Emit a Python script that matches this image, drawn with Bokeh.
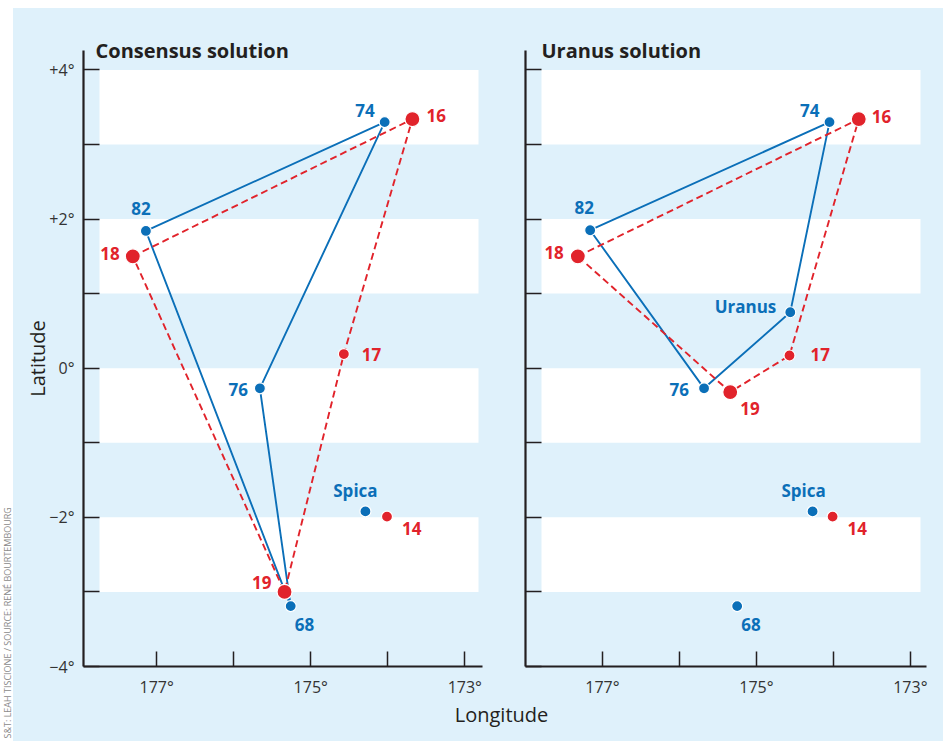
from math import pi
from bokeh.plotting import figure
from bokeh.models import Range1d, FixedTicker, Label, BoxAnnotation, ColumnDataSource
from bokeh.layouts import row, column
from bokeh.embed import file_html
from bokeh.resources import INLINE
from bokeh.core.properties import value

# ---------------- data ----------------
lon_ticks = [177, 176, 175, 174, 173]
lon_tick_labels = {177: "177\u00b0", 176: "", 175: "175\u00b0", 174: "", 173: "173\u00b0"}
lat_ticks = [-4, -3, -2, -1, 0, 1, 2, 3, 4]
lat_tick_labels = {4: "+4\u00b0", 3: "", 2: "+2\u00b0", 1: "", 0: "0\u00b0", -1: "",
                   -2: "\u22122\u00b0", -3: "", -4: "\u22124\u00b0"}
white_band_bottoms = [3, 1, -1, -3]

panel_titles = ["Consensus solution", "Uranus solution"]
x_axis_title = "Longitude"
y_axis_title = "Latitude"
credit_text = "S&T: LEAH TISCIONE / SOURCE: REN\u00c9 BOURTEMBOURG"

consensus_blue_names = ["74", "82", "76", "68", "Spica"]
consensus_blue_lon = [174.04, 177.14, 175.66, 175.26, 174.29]
consensus_blue_lat = [3.30, 1.84, -0.27, -3.19, -1.92]
consensus_blue_path = ["82", "74", "76", "68", "82"]

consensus_red_names = ["16", "18", "17", "19", "14"]
consensus_red_lon = [173.68, 177.31, 174.57, 175.34, 174.01]
consensus_red_lat = [3.34, 1.50, 0.19, -3.00, -1.99]
consensus_red_path = ["18", "16", "17", "19", "18"]

uranus_blue_names = ["74", "82", "Uranus", "76", "68", "Spica"]
uranus_blue_lon = [174.05, 177.16, 174.56, 175.68, 175.25, 174.27]
uranus_blue_lat = [3.30, 1.85, 0.75, -0.27, -3.19, -1.92]
uranus_blue_path = ["82", "74", "Uranus", "76", "82"]

uranus_red_names = ["16", "18", "17", "19", "14"]
uranus_red_lon = [173.67, 177.32, 174.57, 175.34, 174.01]
uranus_red_lat = [3.34, 1.50, 0.17, -0.32, -1.99]
uranus_red_path = ["18", "16", "17", "19", "18"]

big_red_names = ["16", "18", "19"]

# ---------------- styles ----------------
BG = "#dff1fb"
BLUE = "#0b6fb8"
RED = "#e1232b"
INK = "#231f20"
FONT = "Open Sans"

consensus_label_pos = {
    "74": ("right", -10, -12), "16": ("left", 14, -4), "82": ("center", -5, -22),
    "18": ("right", -13, -3), "17": ("left", 18, 0), "76": ("right", -12, 1),
    "68": ("left", 4, 18), "19": ("right", -13, -9), "Spica": ("center", -10, -21),
    "14": ("left", 15, 12),
}
uranus_label_pos = {
    "74": ("right", -10, -12), "16": ("left", 13, -3), "82": ("center", -6, -23),
    "18": ("right", -14, -4), "17": ("left", 21, -1), "Uranus": ("right", -14, -6),
    "76": ("right", -15, 1), "19": ("left", 10, 16), "68": ("left", 4, 18),
    "Spica": ("center", -9, -21), "14": ("left", 15, 12),
}


def path_coords(names, lon, lat, path):
    idx = [names.index(n) for n in path]
    return [lon[i] for i in idx], [lat[i] for i in idx]


def make_panel(title, title_dx, blue, red, label_pos, x_start, x_end, width,
               mb_left, mb_right, band_left, band_right, show_y_labels):
    p = figure(width=width, height=692, output_backend="svg", toolbar_location=None,
               x_range=Range1d(x_start, x_end), y_range=Range1d(-4, 4.26),
               min_border_left=mb_left, min_border_right=mb_right,
               min_border_top=42, min_border_bottom=30)
    p.background_fill_color = BG
    p.border_fill_color = BG
    p.outline_line_color = None
    p.grid.visible = False

    # panel title (overlapping top of frame, as in the original)
    p.title.text = title
    p.title.align = "left"
    p.title.offset = title_dx
    p.title.standoff = -26
    p.title.text_font = FONT
    p.title.text_font_style = "bold"
    p.title.text_font_size = "20px"
    p.title.text_color = INK

    frame_w = width - mb_left - mb_right
    for b in white_band_bottoms:
        p.add_layout(BoxAnnotation(bottom=b, top=b + 1, left=band_left,
                                   right=frame_w - band_right,
                                   left_units="screen", right_units="screen",
                                   fill_color="white", fill_alpha=1.0,
                                   line_color=None, level="underlay"))

    bn, blon, blat, bpath = blue
    rn, rlon, rlat, rpath = red

    # connecting lines
    bx, by = path_coords(bn, blon, blat, bpath)
    p.line(bx, by, line_color=BLUE, line_width=1.9)
    rx, ry = path_coords(rn, rlon, rlat, rpath)
    p.line(rx, ry, line_color=RED, line_width=1.9, line_dash="7 4")

    # points
    p.scatter(blon, blat, size=11, fill_color=BLUE, line_color="white", line_width=1.2)
    rsizes = [15 if n in big_red_names else 11 for n in rn]
    p.scatter(rlon, rlat, size=rsizes, fill_color=RED, line_color="white", line_width=1.2)

    # point labels
    for names, lon, lat, col in ((bn, blon, blat, BLUE), (rn, rlon, rlat, RED)):
        src = ColumnDataSource(dict(
            x=lon, y=lat, t=names,
            a=[label_pos[n][0] for n in names],
            dx=[label_pos[n][1] for n in names],
            dy=[label_pos[n][2] for n in names]))
        p.text(x="x", y="y", text="t", source=src, text_align="a",
               x_offset="dx", y_offset="dy", text_baseline="middle",
               text_color=col, text_font=value(FONT), text_font_style="bold",
               text_font_size="17px")

    # axes
    for ax in (p.xaxis[0], p.yaxis[0]):
        ax.axis_line_color = INK
        ax.axis_line_width = 2.2
        ax.major_tick_line_color = INK
        ax.major_tick_line_width = 1.5
        ax.major_tick_out = 0
        ax.major_tick_in = 15
        ax.minor_tick_line_color = None
        ax.major_label_text_font = FONT
        ax.major_label_text_font_size = "16px"
        ax.major_label_text_color = "#333333"
        ax.major_label_standoff = 9
    p.xaxis.ticker = FixedTicker(ticks=lon_ticks)
    p.xaxis.major_label_overrides = lon_tick_labels
    p.yaxis.ticker = FixedTicker(ticks=lat_ticks)
    p.yaxis.major_tick_in = 16
    if show_y_labels:
        p.yaxis.major_label_overrides = lat_tick_labels
        p.yaxis.axis_label = y_axis_title
        p.yaxis.axis_label_text_font = FONT
        p.yaxis.axis_label_text_font_style = "normal"
        p.yaxis.axis_label_text_font_size = "20px"
        p.yaxis.axis_label_text_color = INK
        p.yaxis.axis_label_standoff = -5
    else:
        p.yaxis.major_label_overrides = {t: "" for t in lat_ticks}
    return p


CREDIT_W = 13
left = make_panel(panel_titles[0], 12,
                  (consensus_blue_names, consensus_blue_lon, consensus_blue_lat, consensus_blue_path),
                  (consensus_red_names, consensus_red_lon, consensus_red_lat, consensus_red_path),
                  consensus_label_pos, 177.95, 172.77, 500 - CREDIT_W, 83 - CREDIT_W, 18, 16, 4, True)
right = make_panel(panel_titles[1], 16,
                   (uranus_blue_names, uranus_blue_lon, uranus_blue_lat, uranus_blue_path),
                   (uranus_red_names, uranus_red_lon, uranus_red_lat, uranus_red_path),
                   uranus_label_pos, 178.0, 172.79, 443, 25, 17, 16, 6, False)

strip_w = 943 - CREDIT_W
strip = figure(width=strip_w, height=41, output_backend="svg", toolbar_location=None,
               x_range=Range1d(0, strip_w), y_range=Range1d(0, 41),
               x_axis_location=None, y_axis_location=None, min_border=0)
strip.background_fill_color = BG
strip.border_fill_color = BG
strip.outline_line_color = None
strip.grid.visible = False
strip.add_layout(Label(x=501 - CREDIT_W, y=27, x_units="screen", y_units="screen",
                       text=x_axis_title, text_font=FONT, text_font_size="20px",
                       text_color=INK, text_align="center", text_baseline="middle"))

credit = figure(width=CREDIT_W, height=733, output_backend="svg", toolbar_location=None,
                x_range=Range1d(0, CREDIT_W), y_range=Range1d(0, 733),
                x_axis_location=None, y_axis_location=None, min_border=0)
credit.background_fill_color = "white"
credit.border_fill_color = "white"
credit.outline_line_color = None
credit.grid.visible = False
credit.add_layout(Label(x=CREDIT_W / 2, y=3, x_units="screen", y_units="screen",
                        text=credit_text, angle=pi / 2, text_font=FONT,
                        text_font_size="9px", text_color="#8a8a8a",
                        text_align="left", text_baseline="middle"))

panels = row(left, right, spacing=0, styles={"background-color": BG})
main = column(panels, strip, spacing=0, styles={"background-color": BG})
layout = row(credit, main, spacing=0, margin=(8, 0, 0, 0),
             styles={"background-color": "white"})
open("out.html", "w").write(file_html(layout, INLINE))
